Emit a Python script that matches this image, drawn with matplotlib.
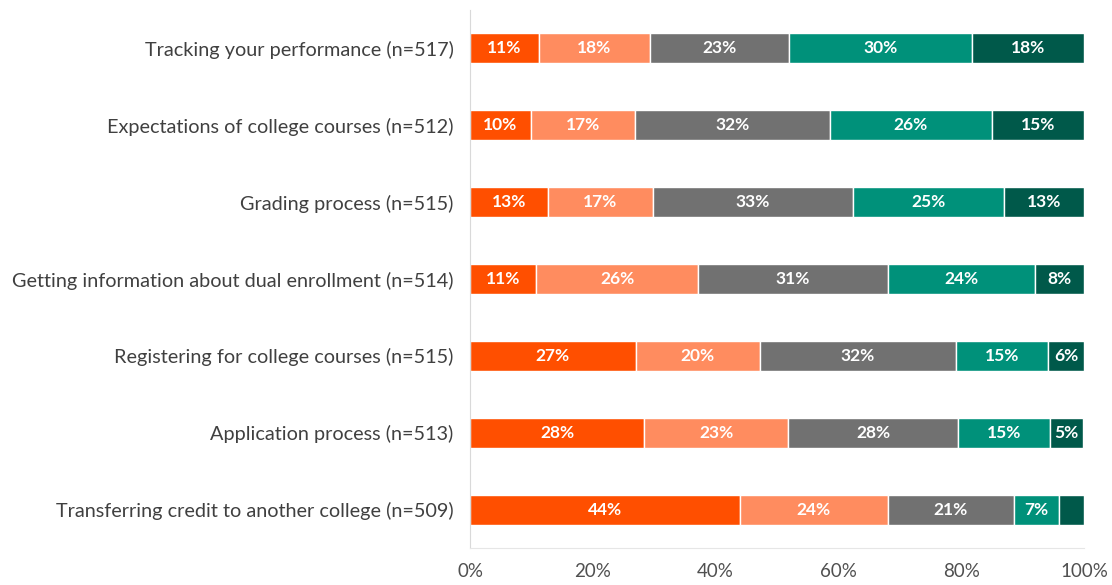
import matplotlib.pyplot as plt
import numpy as np

plt.rcParams['font.family'] = ['Lato', 'DejaVu Sans']

categories = [
    "Tracking your performance (n=517)",
    "Expectations of college courses (n=512)",
    "Grading process (n=515)",
    "Getting information about dual enrollment (n=514)",
    "Registering for college courses (n=515)",
    "Application process (n=513)",
    "Transferring credit to another college (n=509)",
]
# segment shares (%)
seg1 = [11.2, 9.9, 12.7, 10.8, 27.0, 28.4, 44.0]
seg2 = [18.1, 17.0, 17.1, 26.3, 20.2, 23.4, 24.0]
seg3 = [22.7, 31.7, 32.6, 31.0, 31.9, 27.7, 20.6]
seg4 = [29.7, 26.4, 24.6, 24.0, 15.1, 15.0, 7.3]
seg5 = [18.3, 15.0, 13.0, 7.9, 5.8, 5.4, 4.1]
colors = ['#FF4F00', '#FF8C5F', '#717171', '#00917A', '#00594A']

fig = plt.figure(figsize=(11.12, 5.85), dpi=100)
ax = fig.add_axes([0.4227, 0.0632, 0.5521, 0.9198])

y = np.arange(len(categories))
left = np.zeros(len(categories))
for vals, col in zip([seg1, seg2, seg3, seg4, seg5], colors):
    vals = np.array(vals, dtype=float)
    ax.barh(y, vals, left=left, height=0.39, color=col, edgecolor='white', linewidth=1)
    for yi, l, v in zip(y, left, vals):
        if v >= 5:
            ax.text(l + v / 2, yi, f"{round(v)}%", ha='center', va='center',
                    color='white', fontsize=12.5, fontweight='bold')
    left += vals

ax.set_xlim(0, 100)
ax.set_ylim(6.5, -0.5)
ax.set_yticks(y)
ax.set_yticklabels(categories, fontsize=14.3, color='#404040')
ax.set_xticks([0, 20, 40, 60, 80, 100])
ax.set_xticklabels([f"{t}%" for t in [0, 20, 40, 60, 80, 100]], fontsize=13.5, color='#505050')
ax.tick_params(axis='both', length=0)
ax.tick_params(axis='y', pad=12)
ax.tick_params(axis='x', pad=11)
for s in ['top', 'right']:
    ax.spines[s].set_visible(False)
ax.spines['left'].set_color('#D9D9D9')
ax.spines['bottom'].set_color('#E6E6E6')

fig.savefig('out.png', dpi=100)
